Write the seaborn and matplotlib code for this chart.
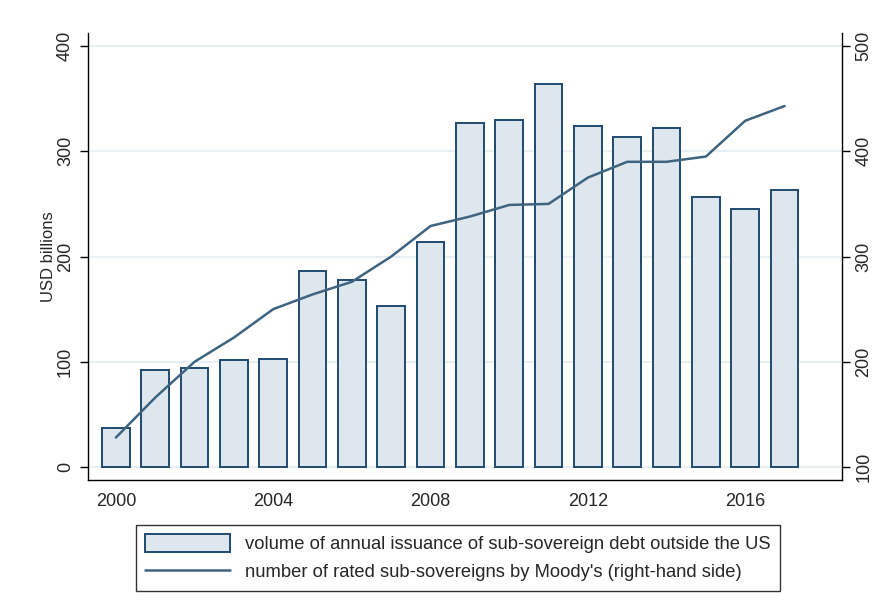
import numpy as np
import pandas as pd
import seaborn as sns
from matplotlib import pyplot as plt

# данные
years = list(range(2000, 2018))
issuance = [37, 92, 94, 102, 103, 186, 178, 153, 214, 327, 330, 364, 324, 314, 322, 257, 245, 263]
rated = [128, 166, 200, 223, 250, 264, 276, 300, 329, 338, 349, 350, 375, 390, 390, 395, 429, 443]

df = pd.DataFrame({'year': years, 'issuance': issuance, 'rated': rated})

sns.set_style('white')
plt.rcParams['font.family'] = ['Liberation Sans', 'DejaVu Sans']

bar_fill = '#dfe7ee'
bar_edge = '#1f4a70'
line_col = '#3e6480'

fig = plt.figure(figsize=(8.85, 6.14), dpi=100)
ax = fig.add_axes([0.0994, 0.2182, 0.852, 0.7281])

# сетка
for v in [0, 100, 200, 300, 400]:
    ax.axhline(v, color='#e8eff3', lw=1.5, zorder=0)

sns.barplot(data=df, x='year', y='issuance', native_scale=True, width=0.7,
            color=bar_fill, edgecolor=bar_edge, linewidth=1.4, saturation=1,
            ax=ax, zorder=2, label='volume of annual issuance of sub-sovereign debt outside the US')

ax.set_xlim(1999.29, 2018.46)
ax.set_ylim(-12.35, 412.4)
ax.set_xticks([2000, 2004, 2008, 2012, 2016])
ax.set_yticks([0, 100, 200, 300, 400])
ax.set_xlabel('')
ax.set_ylabel('USD billions', fontsize=12, labelpad=1)
ax.tick_params(axis='both', direction='out', length=6, width=1, labelsize=13, color='black')
plt.setp(ax.get_yticklabels(), rotation=90, va='center')
ax.tick_params(axis='y', pad=4)
for s in ['left', 'bottom']:
    ax.spines[s].set_color('black')
    ax.spines[s].set_linewidth(1)
ax.spines['top'].set_visible(False)
ax.spines['right'].set_visible(False)

ax2 = ax.twinx()
sns.lineplot(data=df, x='year', y='rated', color=line_col, linewidth=1.8, ax=ax2,
             label="number of rated sub-sovereigns by Moody's (right-hand side)")
ax2.set_ylim(87.65, 512.4)
ax2.set_yticks([100, 200, 300, 400, 500])
ax2.set_ylabel('')
ax2.tick_params(axis='y', direction='out', length=6, width=1, labelsize=13, right=True, color='black')
plt.setp(ax2.get_yticklabels(), rotation=90, va='center')
ax2.spines['top'].set_visible(False)
ax2.spines['left'].set_visible(False)
ax2.spines['bottom'].set_visible(False)
ax2.spines['right'].set_color('black')
ax2.spines['right'].set_linewidth(1)

h1, l1 = ax.get_legend_handles_labels()
h2, l2 = ax2.get_legend_handles_labels()
if ax2.get_legend():
    ax2.get_legend().remove()
if ax.get_legend():
    ax.get_legend().remove()
leg = fig.legend(h1 + h2, l1 + l2, loc='upper left', bbox_to_anchor=(0.1537, 0.145),
                 frameon=True, fancybox=False, edgecolor='black', fontsize=13.2,
                 handlelength=4.65, handleheight=1.1, borderpad=0.5, labelspacing=0.5,
                 handletextpad=0.8, borderaxespad=0)
leg.get_frame().set_linewidth(1)

fig.savefig('out.png', dpi=100)
